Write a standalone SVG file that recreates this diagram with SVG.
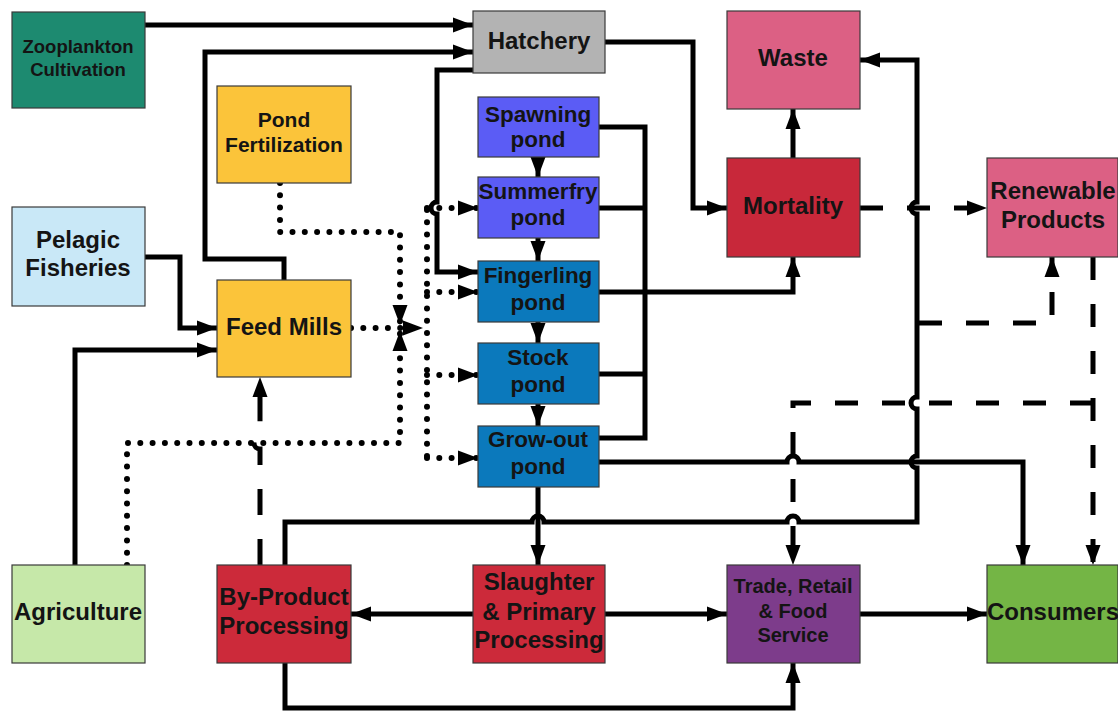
<svg xmlns="http://www.w3.org/2000/svg" width="1118" height="713" viewBox="0 0 1118 713">
<style>
.box{stroke:#3a3a3a;stroke-width:1.2}
.t{font-family:"Liberation Sans",Arial,sans-serif;font-weight:bold;font-size:24px;fill:#141414;text-anchor:middle}
.p{font-size:22.5px}
.f{font-size:21px}
.z{font-size:18.5px}
.s{font-size:20px}
.ln{fill:none;stroke:#000;stroke-width:5}
.dash{stroke-dasharray:23 24}
.dsh2{stroke-dasharray:26 24}
.dot{stroke-width:6;stroke-linecap:round;stroke-dasharray:0 12.3}
</style>
<defs>
<marker id="a" markerUnits="userSpaceOnUse" markerWidth="20" markerHeight="16" refX="20" refY="8" orient="auto">
<path d="M0,0.5 L20,8 L0,15.5 z" fill="#000"/>
</marker>
</defs>
<rect width="1118" height="713" fill="#fff"/>

<g id="connectors">
<path class="ln" d="M145,25 H473" marker-end="url(#a)"/>
<path class="ln" d="M284,280 V259 H205 V52 H473" marker-end="url(#a)"/>
<path class="ln" d="M473,70 H437 V202 A6,6 0 0 0 437,214 V272 H478" marker-end="url(#a)"/>
<path class="ln" d="M605,42 H693 V208 H727" marker-end="url(#a)"/>
<path class="ln" d="M538,157 V177" marker-end="url(#a)"/>
<path class="ln" d="M538,238 V261" marker-end="url(#a)"/>
<path class="ln" d="M538,322 V343" marker-end="url(#a)"/>
<path class="ln" d="M538,404 V426" marker-end="url(#a)"/>
<path class="ln" d="M599,127 H645 V438 H599 M599,208 H645 M599,374 H645"/>
<path class="ln" d="M599,292 H793 V257" marker-end="url(#a)"/>
<path class="ln" d="M793,158 V109" marker-end="url(#a)"/>
<path class="ln dash" d="M860,208 H987" marker-end="url(#a)"/>
<path class="ln" d="M285,565 V522 H532 A6,6 0 0 1 544,522 H787 A6,6 0 0 1 799,522 H917 V468 A6,6 0 0 1 917,456 V409 A6,6 0 0 1 917,397 V214 A6,6 0 0 1 917,202 V60 H860" marker-end="url(#a)"/>
<path class="ln dash" d="M919,323 H1052 V257" marker-end="url(#a)"/>
<path class="ln" d="M599,462 H787 A6,6 0 0 1 799,462 H1023 V565" marker-end="url(#a)"/>
<path class="ln" d="M538,487 V565" marker-end="url(#a)"/>
<path class="ln dash" d="M1093,257 V565" marker-end="url(#a)"/>
<path class="ln dash" d="M1093,403 H793 V565" marker-end="url(#a)"/>
<path class="ln" d="M473,614 H351" marker-end="url(#a)"/>
<path class="ln" d="M605,614 H727" marker-end="url(#a)"/>
<path class="ln" d="M860,614 H987" marker-end="url(#a)"/>
<path class="ln" d="M285,663 V708 H793 V663" marker-end="url(#a)"/>
<path class="ln dsh2" d="M260,565 V449 A6,6 0 0 1 260,437 V377" marker-end="url(#a)"/>
<path class="ln" d="M75,565 V350 H217" marker-end="url(#a)"/>
<path class="ln" d="M145,257 H180 V328 H217" marker-end="url(#a)"/>
<path class="ln dot" d="M127,565 V443 H400 V331" marker-end="url(#a)"/>
<path class="ln dot" d="M280,183 V232 H400 V325" marker-end="url(#a)"/>
<path class="ln dot" d="M351,328 H423" marker-end="url(#a)"/>
<path class="ln dot" d="M427,210 V458"/>
<path class="ln dot" d="M427,208 H478" marker-end="url(#a)"/>
<path class="ln dot" d="M427,292 H478" marker-end="url(#a)"/>
<path class="ln dot" d="M427,375 H478" marker-end="url(#a)"/>
<path class="ln dot" d="M427,458 H478" marker-end="url(#a)"/>
</g>

<g id="zooplankton"><rect class="box" x="12" y="12" width="133" height="96" fill="#1d8a70"/><text class="t z" x="78" y="53">Zooplankton</text><text class="t z" x="78" y="76">Cultivation</text></g>
<g id="hatchery"><rect class="box" x="473" y="11" width="132" height="62" fill="#b3b3b3"/><text class="t" x="539" y="49">Hatchery</text></g>
<g id="waste"><rect class="box" x="727" y="11" width="133" height="98" fill="#dc6084"/><text class="t" x="793" y="66">Waste</text></g>
<g id="pond-fertilization"><rect class="box" x="217" y="86" width="134" height="97" fill="#fbc43a"/><text class="t f" x="284" y="127">Pond</text><text class="t f" x="284" y="152">Fertilization</text></g>
<g id="pelagic-fisheries"><rect class="box" x="12" y="207" width="133" height="99" fill="#c9e8f7"/><text class="t" x="78" y="248">Pelagic</text><text class="t" x="78" y="276">Fisheries</text></g>
<g id="feed-mills"><rect class="box" x="217" y="280" width="134" height="97" fill="#fbc43a"/><text class="t" x="284" y="335">Feed Mills</text></g>
<g id="spawning-pond"><rect class="box" x="478" y="97" width="121" height="60" fill="#5b5cf5"/><text class="t p" x="538" y="122">Spawning</text><text class="t p" x="538" y="147">pond</text></g>
<g id="summerfry-pond"><rect class="box" x="478" y="177" width="121" height="61" fill="#5b5cf5"/><text class="t p" x="538" y="199">Summerfry</text><text class="t p" x="538" y="225">pond</text></g>
<g id="fingerling-pond"><rect class="box" x="478" y="261" width="121" height="61" fill="#0b79bc"/><text class="t p" x="538" y="283">Fingerling</text><text class="t p" x="538" y="310">pond</text></g>
<g id="stock-pond"><rect class="box" x="478" y="343" width="121" height="61" fill="#0b79bc"/><text class="t p" x="538" y="365">Stock</text><text class="t p" x="538" y="392">pond</text></g>
<g id="grow-out-pond"><rect class="box" x="478" y="426" width="121" height="61" fill="#0b79bc"/><text class="t p" x="538" y="447">Grow-out</text><text class="t p" x="538" y="474">pond</text></g>
<g id="mortality"><rect class="box" x="727" y="158" width="133" height="99" fill="#c8283a"/><text class="t" x="793" y="214">Mortality</text></g>
<g id="renewable-products"><rect class="box" x="987" y="158" width="131" height="99" fill="#dc6084"/><text class="t" x="1053" y="199">Renewable</text><text class="t" x="1053" y="228">Products</text></g>
<g id="agriculture"><rect class="box" x="12" y="565" width="133" height="98" fill="#c6e8a9"/><text class="t" x="78" y="620">Agriculture</text></g>
<g id="by-product-processing"><rect class="box" x="217" y="565" width="134" height="98" fill="#cc2a3a"/><text class="t" x="284" y="605">By-Product</text><text class="t" x="284" y="634">Processing</text></g>
<g id="slaughter"><rect class="box" x="473" y="565" width="132" height="98" fill="#cc2a3a"/><text class="t" x="539" y="590">Slaughter</text><text class="t" x="539" y="620">&amp; Primary</text><text class="t" x="539" y="648">Processing</text></g>
<g id="trade-retail"><rect class="box" x="727" y="565" width="133" height="98" fill="#7d3c8b"/><text class="t s" x="793" y="593">Trade, Retail</text><text class="t s" x="793" y="618">&amp; Food</text><text class="t s" x="793" y="642">Service</text></g>
<g id="consumers"><rect class="box" x="987" y="565" width="131" height="98" fill="#74b545"/><text class="t" x="1053" y="620">Consumers</text></g>
</svg>
